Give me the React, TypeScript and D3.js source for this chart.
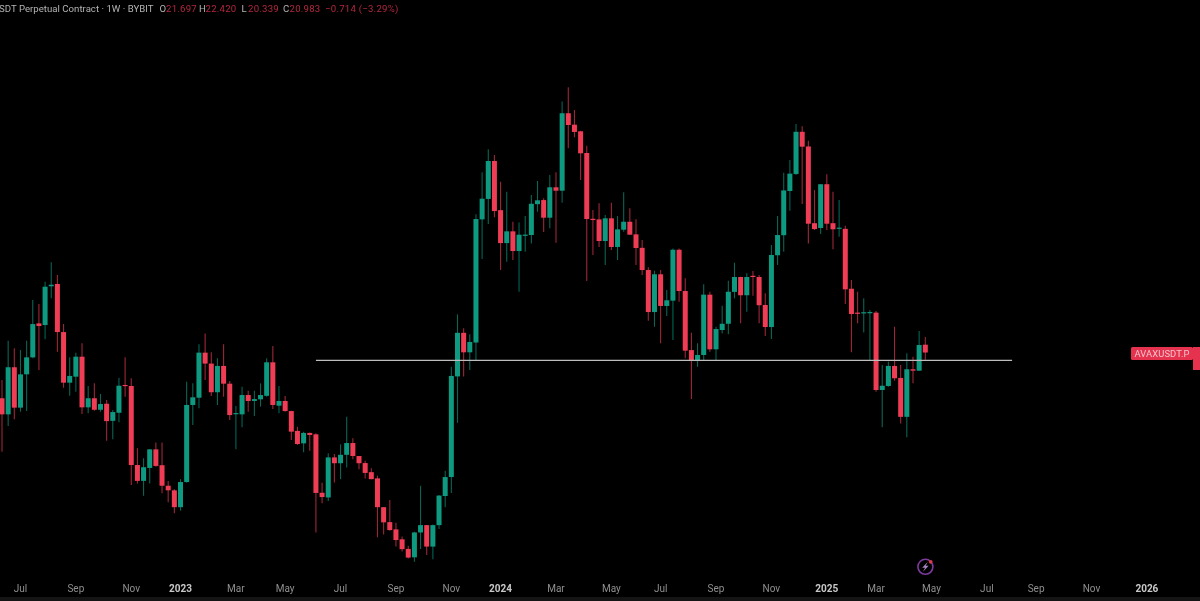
import React from "react";
import * as d3 from "d3";

// Weekly AVAXUSDT.P candles, oldest first
const opens = [17.25,16.10,19.70,16.57,19.11,20.55,23.77,23.60,27.86,28.14,22.90,18.44,18.92,20.61,16.59,17.25,16.42,16.85,15.66,16.21,18.26,18.18,12.96,12.11,12.80,13.86,12.95,11.86,11.63,10.82,12.05,16.76,17.29,20.97,20.01,17.70,19.81,18.36,16.14,16.10,17.49,17.05,17.17,17.43,20.12,16.71,17.05,16.33,15.00,14.22,14.87,14.78,11.51,11.28,13.39,13.06,13.54,14.24,13.47,13.07,12.57,12.24,10.82,10.15,9.84,9.43,9.05,8.73,9.71,10.02,9.14,10.02,11.35,12.31,18.94,22.83,21.00,21.90,37.10,40.50,47.64,38.60,33.52,35.25,32.40,34.65,34.70,39.60,40.30,37.37,42.57,41.95,58.45,55.66,54.10,49.30,37.20,37.10,33.82,37.27,32.97,35.50,36.73,34.80,32.85,29.87,24.95,29.33,25.61,26.20,32.58,27.30,21.20,20.28,20.76,26.88,21.27,23.10,23.73,27.20,28.99,26.81,29.14,28.99,25.72,23.40,31.82,34.67,41.90,45.07,53.99,50.70,36.50,35.76,43.13,36.50,35.63,35.63,27.57,24.89,24.82,24.85,24.89,17.87,18.18,19.81,18.82,15.93,19.53,19.41,21.697];
const highs = [18.65,22.07,21.36,21.21,22.07,26.27,25.83,28.41,30.87,29.24,23.70,20.55,20.97,21.82,18.18,18.39,17.57,17.12,16.40,18.84,20.55,18.79,13.92,13.34,13.88,14.28,14.28,12.10,11.68,12.20,18.52,18.39,21.73,22.76,21.00,20.47,21.73,18.57,16.69,18.13,17.82,17.82,18.39,20.47,21.58,18.18,17.42,16.35,15.27,14.95,14.89,14.85,12.01,13.63,13.59,14.16,15.93,14.53,13.47,13.20,12.78,12.38,10.82,11.16,10.12,9.54,9.17,9.74,11.86,10.02,10.05,11.40,12.65,19.75,24.71,23.27,22.70,37.91,45.38,50.09,48.89,43.60,41.76,36.73,36.63,37.64,41.19,43.73,40.60,44.87,45.38,61.44,65.30,59.27,54.24,50.87,38.62,39.75,37.80,39.85,37.64,41.66,38.90,37.11,33.96,30.22,29.78,29.87,27.42,32.77,32.77,28.83,22.83,21.82,28.10,27.22,23.43,25.64,28.53,30.82,29.03,29.45,29.74,29.24,27.04,33.25,37.64,45.29,47.84,55.80,55.30,51.96,42.07,43.18,45.00,41.76,40.31,36.10,28.62,27.22,26.46,25.17,25.06,19.88,20.18,23.43,19.88,20.91,20.61,23.00,22.420];
const lows = [13.72,15.32,15.76,16.28,16.33,20.47,19.47,22.20,26.46,21.05,18.05,17.43,17.74,16.12,16.17,16.35,16.28,14.38,14.48,15.56,17.37,11.90,11.98,11.36,11.98,12.87,11.48,11.05,10.54,10.66,12.01,15.38,16.52,18.65,17.42,16.76,17.37,15.71,13.86,15.23,16.28,15.98,16.64,17.37,16.47,16.17,16.28,14.42,14.12,13.69,13.78,9.71,11.00,11.11,12.03,12.20,12.82,13.28,12.73,12.24,12.19,9.51,9.63,9.78,9.14,8.95,8.69,8.57,9.05,8.82,8.66,9.85,10.82,11.50,15.53,18.94,19.47,20.32,31.31,36.38,37.43,29.87,30.95,31.18,27.22,32.30,33.48,38.33,35.15,35.71,33.56,39.85,50.30,52.72,43.92,28.50,31.86,32.97,30.52,32.54,31.18,35.20,34.71,30.52,29.24,24.04,23.43,21.82,24.53,22.13,26.07,20.47,17.19,19.74,20.32,21.05,20.32,22.77,22.70,26.46,23.77,24.99,26.76,23.77,22.52,22.23,30.52,32.30,38.50,44.87,39.63,33.48,35.45,34.85,35.45,32.64,34.45,25.83,21.00,23.77,22.87,20.26,17.74,15.23,18.13,18.60,15.49,14.60,18.39,19.41,20.339];
const closes = [16.10,19.70,16.57,19.11,20.55,23.70,23.50,27.81,28.05,22.90,18.44,18.98,20.61,16.59,17.25,16.42,16.83,15.64,16.26,18.20,18.18,12.96,12.11,12.84,13.86,12.91,11.86,11.63,10.82,12.05,16.76,17.32,20.97,20.01,17.70,19.81,18.36,16.05,16.19,17.49,17.05,17.19,17.49,20.12,16.76,17.05,16.33,14.95,14.18,14.87,14.74,11.50,11.30,13.39,13.06,13.54,14.24,13.47,13.06,12.53,12.20,10.82,10.14,9.81,9.40,9.04,8.72,9.71,10.02,9.14,10.02,11.37,12.31,18.98,22.83,21.00,21.95,37.16,40.54,47.64,38.45,33.52,35.25,32.40,34.75,34.76,39.67,40.26,37.37,42.57,41.95,58.45,55.58,53.95,49.24,37.16,37.00,33.82,37.27,32.97,35.55,36.73,34.75,32.82,29.87,24.95,29.33,25.61,26.24,32.58,27.30,21.15,20.32,20.76,26.88,21.27,23.20,23.73,27.22,28.99,26.81,28.99,29.02,25.69,23.40,31.86,34.70,42.00,45.13,53.99,50.65,36.42,35.60,43.13,36.42,35.56,35.81,27.50,24.74,24.82,24.93,24.95,17.87,18.20,19.81,18.79,15.93,19.53,19.41,21.67,20.983];

// Time axis: candle index of each labelled tick
const tickIndexes = [3,12,21,29,38,46,55,64,73,81,90,99,107,116,125,134,142,151,160,168,177,186];
const tickLabels = ["Jul","Sep","Nov","2023","Mar","May","Jul","Sep","Nov","2024","Mar","May","Jul","Sep","Nov","2025","Mar","May","Jul","Sep","Nov","2026"];

// Horizontal level drawn on the chart
const levelPrice = 20.28;
const levelFrom = 51;
const levelTo = 164.1;

// Header legend
const headerName = "SDT Perpetual Contract · 1W · BYBIT";
const headerFields = [
  { key: "O", value: "21.697", x: 159.5 },
  { key: "H", value: "22.420", x: 199 },
  { key: "L", value: "20.339", x: 241.5 },
  { key: "C", value: "20.983", x: 283 },
];
const headerChange = "−0.714 (−3.29%)";

const UP = "#109a80";
const DOWN = "#f03c56";
const FONT = "Roboto, 'Noto Sans', sans-serif";

export default function App() {
  const x = d3.scaleLinear().domain([0, 150]).range([2, 925.3]);
  const y = d3.scaleLog().domain([8.63, 65.4]).range([560, 87]);
  const bodyW = 5;

  return (
    <svg
      width={1200}
      height={601}
      viewBox="0 0 1200 601"
      style={{ position: "absolute", left: 0, top: 0, background: "#000", display: "block" }}
    >
      <defs>
        <filter id="soft" x="-5%" y="-5%" width="110%" height="110%">
          <feGaussianBlur stdDeviation="0.35" />
        </filter>
      </defs>
      <rect width={1200} height={601} fill="#000" />
      <rect y={597} width={1200} height={4} fill="#141414" />

      <g filter="url(#soft)">
        {opens.map((o, i) => {
          const c = closes[i];
          const up = c >= o;
          const colour = up ? UP : DOWN;
          const top = y(Math.max(o, c));
          const bot = y(Math.min(o, c));
          const cx = x(i);
          return (
            <g key={i}>
              <line x1={cx} x2={cx} y1={y(highs[i])} y2={y(lows[i])} stroke={colour} strokeWidth={1.1} strokeOpacity={0.65} />
              <rect x={cx - bodyW / 2} y={top} width={bodyW} height={Math.max(bot - top, 1.2)} fill={colour} />
            </g>
          );
        })}
        <line
          x1={x(levelFrom)}
          x2={x(levelTo)}
          y1={y(levelPrice)}
          y2={y(levelPrice)}
          stroke="#bdbdbd"
          strokeWidth={1.3}
        />
      </g>

      <g fontFamily={FONT} fontSize={9.6} filter="url(#soft)">
        <text x={-1} y={12} fill="#b4b4b4" textLength={154.5} lengthAdjust="spacing">{headerName}</text>
        {headerFields.map((f) => (
          <g key={f.key}>
            <text x={f.x} y={12} fill="#b4b4b4">{f.key}</text>
            <text x={f.x + 6.5} y={12} fill="#b3283f" letterSpacing={0.25}>{f.value}</text>
          </g>
        ))}
        <text x={325} y={12} fill="#b3283f" letterSpacing={0.25}>{headerChange}</text>
      </g>

      <g fontFamily={FONT} fontSize={10} textAnchor="middle" filter="url(#soft)">
        {tickIndexes.map((t, i) => {
          const label = tickLabels[i];
          const isYear = /^\d+$/.test(label);
          return (
            <text
              key={i}
              x={x(t)}
              y={591.5}
              fill={isYear ? "#c8c8c8" : "#8f8f8f"}
              fontWeight={isYear ? 700 : 400}
            >
              {label}
            </text>
          );
        })}
      </g>

      <g filter="url(#soft)">
        <rect x={1131} y={347} width={62} height={13} rx={1.5} fill="#e5334f" />
        <rect x={1193} y={347} width={7} height={23} fill="#e5334f" />
        <text x={1134.5} y={356.7} fontFamily={FONT} fontSize={9.4} letterSpacing={0.1} fill="#f3c4cb">AVAXUSDT.P</text>
      </g>

      <g transform="translate(925.4,566.8)" filter="url(#soft)">
        <circle r={7.5} fill="none" stroke="#7d3a9e" strokeWidth={1.6} />
        <path d="M2.4,-5 L-3.2,1 L-0.3,1 L-2.4,5 L3.2,-1 L0.3,-1 Z" fill="#a884c4" />
        <circle cx={5.3} cy={-5} r={1.9} fill="#d83a4a" />
      </g>
    </svg>
  );
}
